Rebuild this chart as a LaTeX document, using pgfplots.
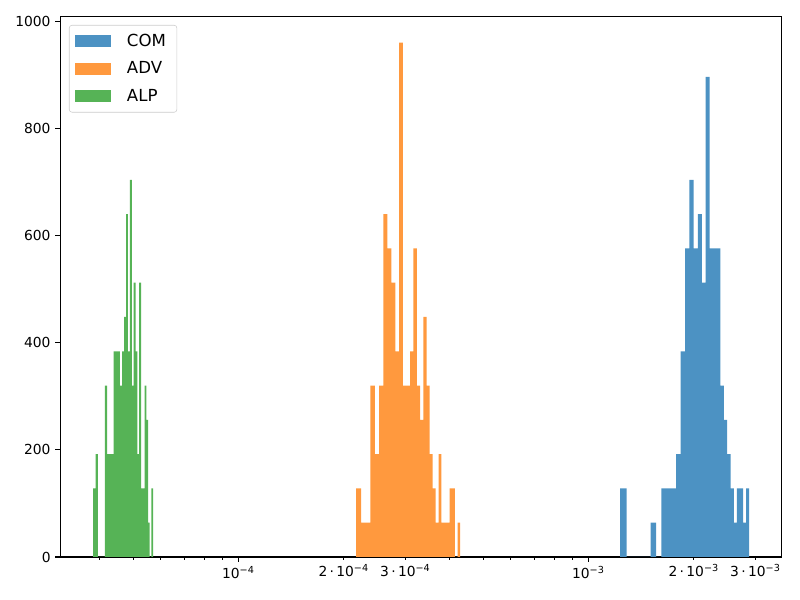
\documentclass[border=0pt]{standalone}
\usepackage{fontspec}
\setmainfont{DejaVu Sans}
\usepackage{pgfplots}
\pgfplotsset{compat=1.18}
\definecolor{cblue}{RGB}{76,146,195}
\definecolor{corange}{RGB}{255,153,62}
\definecolor{cgreen}{RGB}{86,179,86}
\begin{document}
\begin{tikzpicture}
\path[use as bounding box] (0,0) rectangle (578.16pt,433.62pt);
\begin{axis}[
  at={(43.58pt,31.08pt)}, anchor=south west,
  scale only axis, width=521.4pt, height=390.3pt,
  xmode=log, xmin=3.0986e-5, xmax=3.5676e-3, ymin=0, ymax=1008,
  axis line style={line width=0.8pt},
  tick align=outside, xtick pos=bottom, ytick pos=left,
  major tick length=3.5pt, minor tick length=2pt,
  every tick/.style={black, line width=0.8pt},
  minor tick style={line width=0.6pt},
  xtick={1e-4,1e-3},
  xticklabels={10\textsuperscript{−4},10\textsuperscript{−3}},
  minor xtick={4e-5,5e-5,6e-5,7e-5,8e-5,9e-5,4e-4,5e-4,6e-4,7e-4,8e-4,9e-4},
  extra x ticks={2e-4,3e-4,2e-3,3e-3},
  extra x tick labels={2\,·\,10\textsuperscript{−4},3\,·\,10\textsuperscript{−4},2\,·\,10\textsuperscript{−3},3\,·\,10\textsuperscript{−3}},
  extra x tick style={major tick length=2pt, tick style={line width=0.6pt}},
  ytick={0,200,400,600,800,1000},
  /pgf/number format/1000 sep={},
  /pgf/number format/assume math mode=true,
  tick label style={font=\fontsize{10}{12}\selectfont},
  legend image code/.code={\fill[#1,draw=none,fill opacity=1,sharp corners] (0pt,-4.3pt) rectangle (26pt,4.3pt);},
  legend style={at={([xshift=6.3pt,yshift=-5.8pt]rel axis cs:0,1)}, anchor=north west,
    draw=black!20, rounded corners=2pt, fill=white, fill opacity=0.8, text opacity=1,
    font=\fontsize{12}{14}\selectfont, row sep=9.6pt, column sep=11.4pt,
    inner xsep=4.3pt, inner ysep=6.4pt, cells={anchor=west}, nodes={inner sep=0pt}},
]
\addplot[fill=cblue, draw=none, const plot mark left] coordinates {
(1.23170e-3,128) (1.28651e-3,0) (1.34132e-3,0) (1.39613e-3,0) (1.45094e-3,0)
(1.50575e-3,64) (1.56056e-3,0) (1.61537e-3,128) (1.67018e-3,128) (1.72499e-3,128)
(1.77980e-3,192) (1.83461e-3,384) (1.88942e-3,576) (1.94423e-3,704) (1.99904e-3,576)
(2.05385e-3,640) (2.10866e-3,512) (2.16347e-3,896) (2.21828e-3,576) (2.27309e-3,576)
(2.32790e-3,576) (2.38271e-3,320) (2.43752e-3,256) (2.49233e-3,192) (2.54714e-3,128)
(2.60195e-3,64) (2.65676e-3,128) (2.71157e-3,128) (2.76638e-3,64) (2.82119e-3,128)
(2.87600e-3,128)
} \closedcycle;
\addlegendentry{COM\rule{3.6pt}{0pt}}
\addplot[fill=corange, draw=none, const plot mark left] coordinates {
(2.16960e-4,128) (2.24058e-4,64) (2.31156e-4,64) (2.38254e-4,320) (2.45352e-4,192)
(2.52450e-4,320) (2.59548e-4,640) (2.66646e-4,576) (2.73744e-4,512) (2.80842e-4,384)
(2.87940e-4,960) (2.95038e-4,320) (3.02136e-4,320) (3.09234e-4,384) (3.16332e-4,576)
(3.23430e-4,320) (3.30528e-4,256) (3.37626e-4,448) (3.44724e-4,320) (3.51822e-4,192)
(3.58920e-4,128) (3.66018e-4,64) (3.73116e-4,192) (3.80214e-4,64) (3.87312e-4,64)
(3.94410e-4,64) (4.01508e-4,128) (4.08606e-4,128) (4.15704e-4,0) (4.22802e-4,64)
(4.29900e-4,64)
} \closedcycle;
\addlegendentry{ADV}
\addplot[fill=cgreen, draw=none, const plot mark left] coordinates {
(3.8447e-5,128) (3.9067e-5,192) (3.9687e-5,0) (4.0307e-5,0) (4.0927e-5,0)
(4.1547e-5,320) (4.2167e-5,192) (4.2787e-5,192) (4.3407e-5,192) (4.4027e-5,384)
(4.4647e-5,384) (4.5267e-5,384) (4.5887e-5,320) (4.6507e-5,384) (4.7127e-5,448)
(4.7747e-5,640) (4.8367e-5,384) (4.8987e-5,704) (4.9607e-5,320) (5.0227e-5,512)
(5.0847e-5,384) (5.1467e-5,192) (5.2087e-5,512) (5.2707e-5,128) (5.3327e-5,128)
(5.3947e-5,320) (5.4567e-5,256) (5.5187e-5,64) (5.5807e-5,0) (5.6427e-5,128)
(5.7047e-5,128)
} \closedcycle;
\addlegendentry{ALP}
\end{axis}
\end{tikzpicture}
\end{document}
